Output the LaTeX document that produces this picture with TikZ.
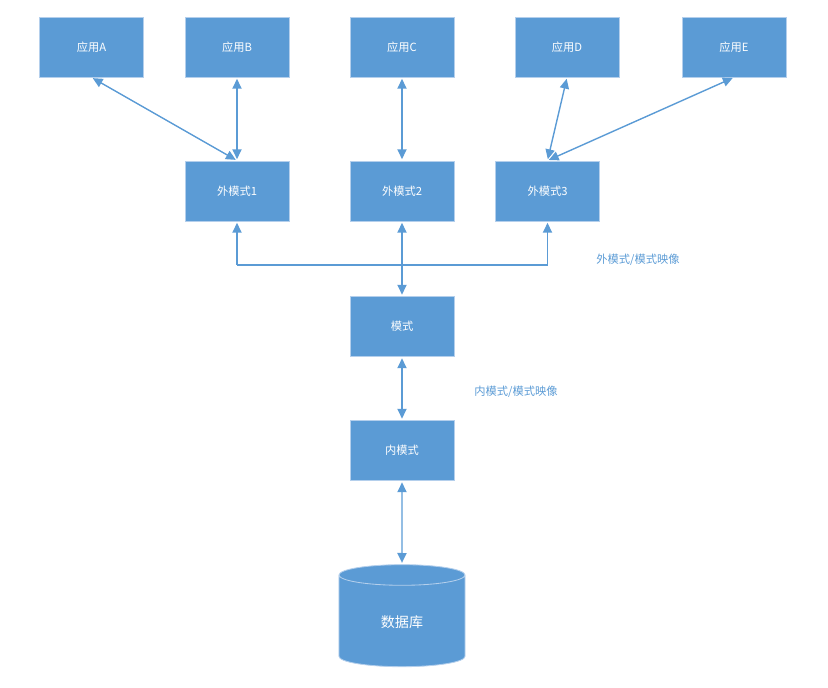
\documentclass[tikz,border=0pt]{standalone}
\usepackage{fontspec}
\newfontfamily\cjk{Noto Sans CJK SC}
\usetikzlibrary{arrows.meta,shapes.geometric}
\definecolor{boxblue}{HTML}{5B9BD5}
\definecolor{rimblue}{HTML}{B4CFEC}
\definecolor{linkblue}{HTML}{5B9BD5}
\begin{document}
\begin{tikzpicture}[x=0.025cm, y=-0.025cm,
    modbox/.style={rectangle, fill=boxblue, draw=rimblue, line width=0.6pt,
        minimum width=2.6cm, minimum height=1.5cm, text=white,
        font=\cjk\fontsize{8}{10}\selectfont},
    link/.style={draw=linkblue, line width=1pt, shorten >=1pt, shorten <=1pt,
        {Triangle[length=7pt,width=6.5pt]}-{Triangle[length=7pt,width=6.5pt]}},
    uplink/.style={draw=linkblue, line width=1pt, shorten >=1pt,
        -{Triangle[length=7pt,width=6.5pt]}},
    maplabel/.style={text=linkblue, font=\cjk\fontsize{8}{10}\selectfont}]
    \useasboundingbox (0,0) rectangle (828,688);

    % Applications
    \node[modbox] (appA) at (91.5,47) {应用A};
    \node[modbox] (appB) at (237,47) {应用B};
    \node[modbox] (appC) at (402,47) {应用C};
    \node[modbox] (appD) at (567,47) {应用D};
    \node[modbox] (appE) at (734,47) {应用E};

    % External schemas
    \node[modbox] (ext1) at (237,191) {外模式1};
    \node[modbox] (ext2) at (402,191) {外模式2};
    \node[modbox] (ext3) at (547.5,191) {外模式3};

    % Schema and internal schema
    \node[modbox] (schema) at (402,326.5) {模式};
    \node[modbox] (inner) at (402,450.5) {内模式};

    % Database
    \node[cylinder, shape border rotate=90, aspect=0.4, fill=boxblue, draw=rimblue,
        line width=0.6pt, minimum width=3.15cm, minimum height=2.55cm, text=white,
        font=\cjk\fontsize{10}{12}\selectfont] (db) at (402,623) {\raisebox{2pt}{数据库}};

    % Application links
    \draw[link] (appA.south) -- (ext1.north);
    \draw[link] (appB.south) -- (ext1.north);
    \draw[link] (appC.south) -- (ext2.north);
    \draw[link] (appD.south) -- (ext3.north);
    \draw[link] (appE.south) -- (ext3.north);

    % External/schema mapping
    \coordinate (busL) at (237,265);
    \coordinate (busR) at (547.5,265);
    \draw[linkblue, line width=1pt] (busL) -- (busR);
    \draw[uplink] (busL) -- (ext1.south);
    \draw[uplink] (busR) -- (ext3.south);
    \draw[link] (ext2.south) -- (schema.north);
    \node[maplabel] (extmap) at (638,260) {外模式/模式映像};

    % Internal/schema mapping
    \draw[link] (schema.south) -- (inner.north);
    \node[maplabel] (inmap) at (516,392) {内模式/模式映像};

    % Storage
    \draw[link] (inner.south) -- (db.north);
\end{tikzpicture}
\end{document}
